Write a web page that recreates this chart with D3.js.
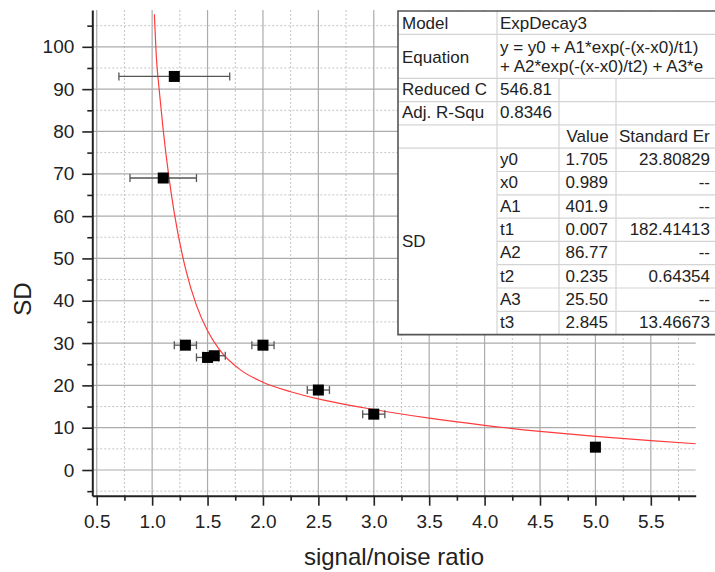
<!DOCTYPE html>
<html>
<head>
<meta charset="utf-8">
<script src="https://cdn.jsdelivr.net/npm/d3@7"></script>
<style>
  body { margin: 0; background: #fff; }
  svg { display: block; font-family: Arial, "Liberation Sans", sans-serif; }
</style>
</head>
<body>
<svg id="chart" width="715" height="572"></svg>
<script>
// Measured points (signal/noise ratio vs SD) with horizontal error
const snr    = [1.2, 1.1, 1.3, 1.5, 1.56, 2.0, 2.5, 3.0, 5.0];
const sd     = [93, 69, 29.5, 26.6, 27.0, 29.5, 18.9, 13.2, 5.4];
const snrErr = [0.5, 0.3, 0.1, 0.1, 0.1, 0.1, 0.1, 0.1, 0.03];

// Fitted ExpDecay3 curve
const fitX = [1.02, 1.04, 1.06, 1.1, 1.15, 1.2, 1.3, 1.4, 1.5, 1.6, 1.8, 2.0, 2.25, 2.5, 3.0, 3.5, 4.0, 4.5, 5.0, 5.5, 5.91];
const fitY = [107.7, 96.8, 90.8, 80.3, 69.5, 60.7, 47.7, 38.9, 32.9, 28.7, 23.6, 20.75, 18.5, 16.8, 14.3, 12.25, 10.55, 9.13, 7.93, 6.93, 6.2];

// Tick values
const xMajor = [0.5, 1.0, 1.5, 2.0, 2.5, 3.0, 3.5, 4.0, 4.5, 5.0, 5.5];
const xMinor = [0.75, 1.25, 1.75, 2.25, 2.75, 3.25, 3.75, 4.25, 4.75, 5.25, 5.75];
const yMajor = [0, 10, 20, 30, 40, 50, 60, 70, 80, 90, 100];
const yMinor = [-5, 5, 15, 25, 35, 45, 55, 65, 75, 85, 95, 105];

// Fit report table (texts as visible, truncated by the cell widths)
const modelName = "ExpDecay3";
const equationLines = ["y = y0 + A1*exp(-(x-x0)/t1)", "+ A2*exp(-(x-x0)/t2) + A3*e"];
const statLabels = ["Reduced C", "Adj. R-Squ"];
const statValues = ["546.81", "0.8346"];
const paramNames  = ["y0", "x0", "A1", "t1", "A2", "t2", "A3", "t3"];
const paramValues = ["1.705", "0.989", "401.9", "0.007", "86.77", "0.235", "25.50", "2.845"];
const paramErrors = ["23.80829", "--", "--", "182.41413", "--", "0.64354", "--", "13.46673"];

const svg = d3.select("#chart");
const plotL = 92.3, plotR = 695.7, plotT = 10, plotB = 495.7;

const x = d3.scaleLinear().domain([0.46, 5.905]).range([plotL, plotR]);
const y = d3.scaleLinear().domain([-6.07, 108.7]).range([plotB, plotT]);

// grid
const grid = svg.append("g");
grid.selectAll(".gxm").data(xMinor).enter().append("line")
    .attr("x1", d => x(d)).attr("x2", d => x(d)).attr("y1", plotT).attr("y2", plotB)
    .attr("stroke", "#c4c4c4").attr("stroke-dasharray", "2,2");
grid.selectAll(".gym").data(yMinor).enter().append("line")
    .attr("x1", plotL).attr("x2", plotR).attr("y1", d => y(d)).attr("y2", d => y(d))
    .attr("stroke", "#c4c4c4").attr("stroke-dasharray", "2,2");
grid.selectAll(".gx").data(xMajor).enter().append("line")
    .attr("x1", d => x(d)).attr("x2", d => x(d)).attr("y1", plotT).attr("y2", plotB)
    .attr("stroke", "#ababab").attr("stroke-width", 1.2);
grid.selectAll(".gy").data(yMajor).enter().append("line")
    .attr("x1", plotL).attr("x2", plotR).attr("y1", d => y(d)).attr("y2", d => y(d))
    .attr("stroke", "#ababab").attr("stroke-width", 1.2);

// clip for plot content
svg.append("clipPath").attr("id", "plot-clip")
  .append("rect").attr("x", plotL).attr("y", plotT).attr("width", plotR - plotL).attr("height", plotB - plotT);

// fitted curve
const line = d3.line().x((d, i) => x(fitX[i])).y(d => y(d)).curve(d3.curveMonotoneX);
svg.append("path")
    .datum(fitY)
    .attr("clip-path", "url(#plot-clip)")
    .attr("fill", "none")
    .attr("stroke", "#ff3b3b")
    .attr("stroke-width", 1.2)
    .attr("d", line);

// error bars
const pts = snr.map((v, i) => ({x: v, y: sd[i], e: snrErr[i]}));
const eb = svg.append("g").attr("stroke", "#555").attr("stroke-width", 1.3);
eb.selectAll(".eb").data(pts).enter().append("line")
    .attr("x1", d => x(d.x - d.e)).attr("x2", d => x(d.x + d.e))
    .attr("y1", d => y(d.y)).attr("y2", d => y(d.y));
eb.selectAll(".capl").data(pts).enter().append("line")
    .attr("x1", d => x(d.x - d.e)).attr("x2", d => x(d.x - d.e))
    .attr("y1", d => y(d.y) - 4).attr("y2", d => y(d.y) + 4);
eb.selectAll(".capr").data(pts).enter().append("line")
    .attr("x1", d => x(d.x + d.e)).attr("x2", d => x(d.x + d.e))
    .attr("y1", d => y(d.y) - 4).attr("y2", d => y(d.y) + 4);

// markers
svg.selectAll(".pt").data(pts).enter().append("rect")
    .attr("x", d => x(d.x) - 5.5).attr("y", d => y(d.y) - 5.5)
    .attr("width", 11).attr("height", 11)
    .attr("fill", "#000");

// axes
function styleAxis(g) {
  g.selectAll(".domain").attr("stroke", "#222").attr("stroke-width", 2);
  g.selectAll(".tick line").attr("stroke", "#222").attr("stroke-width", 1.6);
  g.selectAll(".tick text").attr("fill", "#222").attr("font-size", "19px");
}

svg.append("g")
    .attr("transform", `translate(0,${plotB})`)
    .call(d3.axisBottom(x).tickValues(xMinor).tickSize(5).tickSizeOuter(0).tickFormat(""))
    .call(styleAxis);
svg.append("g")
    .attr("transform", `translate(0,${plotB})`)
    .call(d3.axisBottom(x).tickValues(xMajor).tickSize(10).tickSizeOuter(0).tickPadding(9).tickFormat(d3.format(".1f")))
    .call(styleAxis)
    .call(g => g.select(".domain").remove());

svg.append("g")
    .attr("transform", `translate(${plotL},0)`)
    .call(d3.axisLeft(y).tickValues(yMinor).tickSize(5).tickSizeOuter(0).tickFormat(""))
    .call(styleAxis);
svg.append("g")
    .attr("transform", `translate(${plotL},0)`)
    .call(d3.axisLeft(y).tickValues(yMajor).tickSize(10).tickSizeOuter(0).tickPadding(8))
    .call(styleAxis)
    .call(g => g.select(".domain").remove());

// axis titles
svg.append("text")
    .attr("x", (plotL + plotR) / 2).attr("y", 565)
    .attr("text-anchor", "middle")
    .attr("font-size", "24px").attr("fill", "#222")
    .text("signal/noise ratio");
svg.append("text")
    .attr("transform", "translate(31,299) rotate(-90)")
    .attr("text-anchor", "middle")
    .attr("font-size", "24px").attr("fill", "#222")
    .text("SD");

// fit report table
const tb = svg.append("g").attr("font-size", "17px").attr("fill", "#222");
const tx0 = 398, tx1 = 497, tx2 = 559, tx3 = 616, tx4 = 730;
const rowH = 23.3;
const rowTops = [11, 34.3, 78.3];
for (let i = 1; i <= 11; i++) rowTops.push(78.3 + rowH * i);
const tBottom = rowTops[rowTops.length - 1];

tb.append("rect").attr("x", tx0).attr("y", 11).attr("width", tx4 - tx0).attr("height", tBottom - 11)
    .attr("fill", "#fff");

const inner = tb.append("g").attr("stroke", "#d4d4d4").attr("stroke-width", 1.2);
// horizontal rules
rowTops.slice(1, -1).forEach((yy, i) => {
  const startX = (i >= 5) ? tx1 : tx0;
  inner.append("line").attr("x1", startX).attr("x2", tx4).attr("y1", yy).attr("y2", yy);
});
inner.append("line").attr("x1", tx1).attr("x2", tx1).attr("y1", 11).attr("y2", tBottom);
[tx2, tx3].forEach(cx => inner.append("line").attr("x1", cx).attr("x2", cx).attr("y1", 78.3).attr("y2", tBottom));

// outer border
tb.append("path")
    .attr("d", `M${tx4},11 H${tx0} V${tBottom} H${tx4}`)
    .attr("fill", "none").attr("stroke", "#555").attr("stroke-width", 1.6);

const txt = tb.append("g");
txt.append("text").attr("x", 402).attr("y", 29).text("Model");
txt.append("text").attr("x", 500).attr("y", 29).text(modelName);
txt.append("text").attr("x", 402).attr("y", 62.5).text("Equation");
equationLines.forEach((s, i) => txt.append("text").attr("x", 500).attr("y", 53 + i * 18.5).text(s));
statLabels.forEach((s, i) => {
  txt.append("text").attr("x", 402).attr("y", rowTops[3 + i] - 6.5).text(s);
  txt.append("text").attr("x", 500).attr("y", rowTops[3 + i] - 6.5).text(statValues[i]);
});
txt.append("text").attr("x", (tx2 + tx3) / 2).attr("y", rowTops[5] - 6.5).attr("text-anchor", "middle").text("Value");
txt.append("text").attr("x", 619).attr("y", rowTops[5] - 6.5).text("Standard Er");
txt.append("text").attr("x", 402).attr("y", (rowTops[5] + tBottom) / 2 + 6).text("SD");
paramNames.forEach((p, i) => {
  const by = rowTops[6 + i] - 6.5;
  txt.append("text").attr("x", 500).attr("y", by).text(p);
  txt.append("text").attr("x", 608).attr("y", by).attr("text-anchor", "end").text(paramValues[i]);
  txt.append("text").attr("x", 710).attr("y", by).attr("text-anchor", "end").text(paramErrors[i]);
});
</script>
</body>
</html>
